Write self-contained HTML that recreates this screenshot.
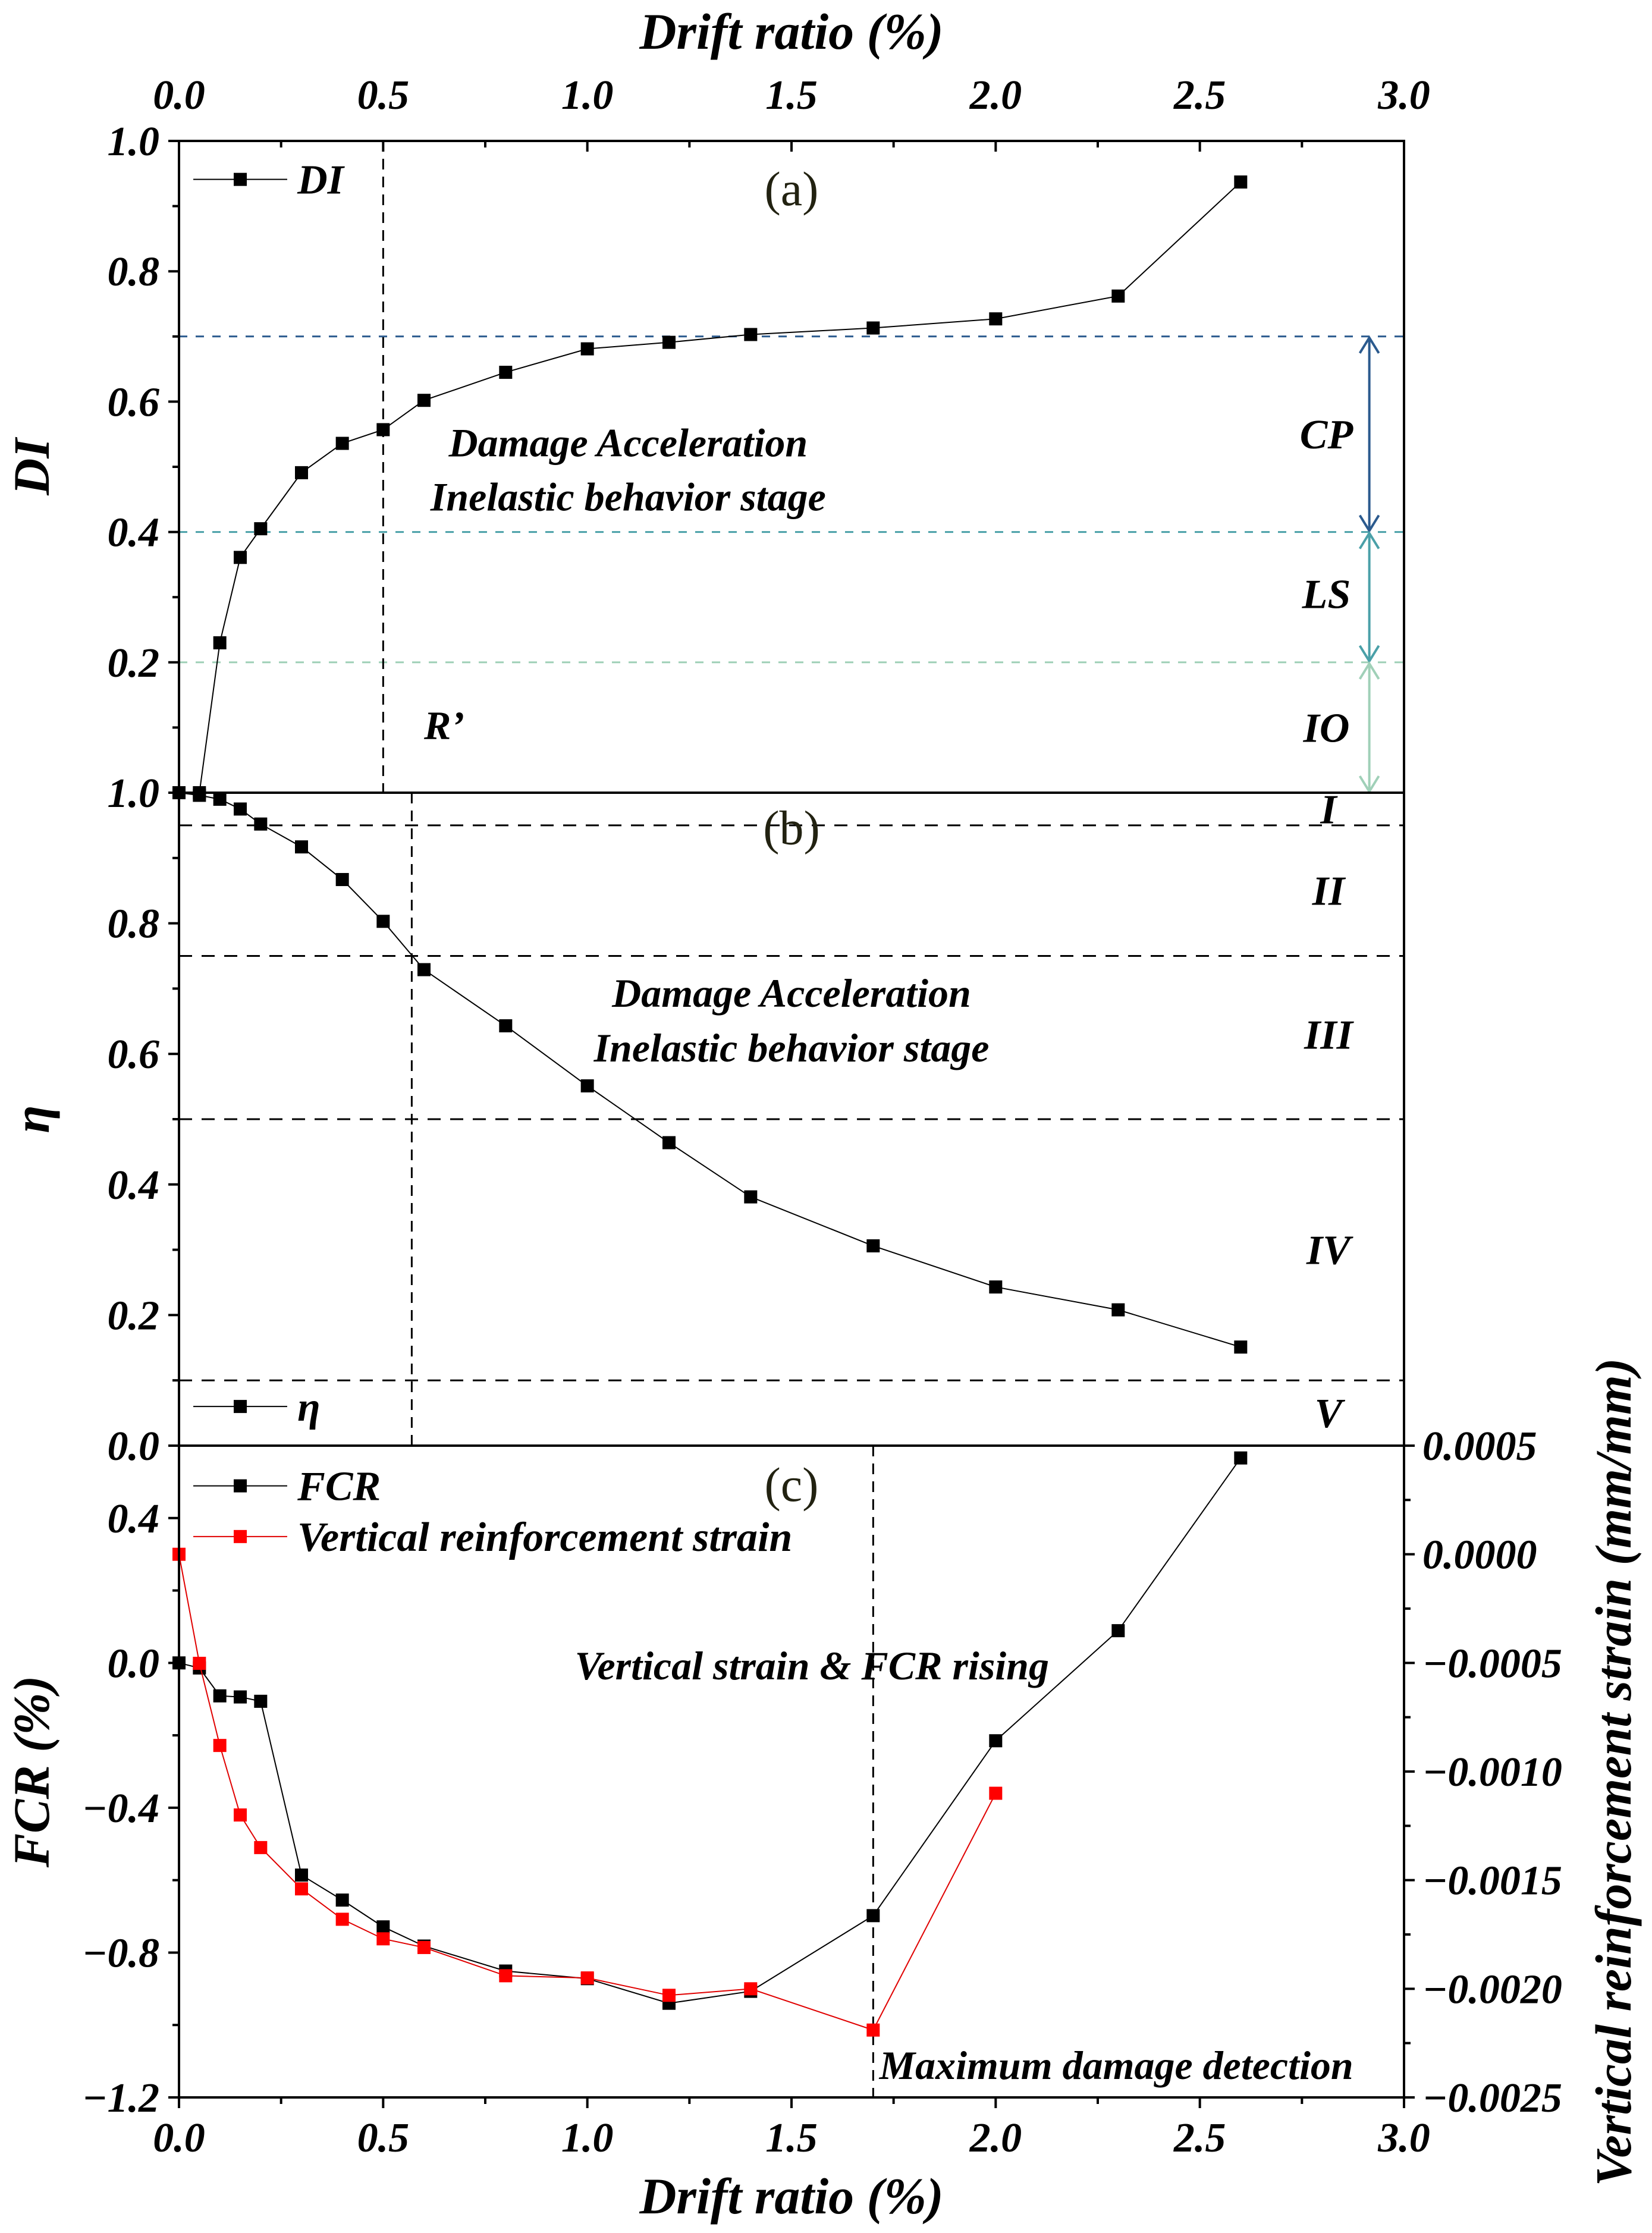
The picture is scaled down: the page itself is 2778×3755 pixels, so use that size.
<!DOCTYPE html>
<html><head><meta charset="utf-8">
<style>
html,body{margin:0;padding:0;background:#fff;}
svg{display:block;font-family:"Liberation Serif",serif;}
.t{font-weight:bold;font-style:italic;fill:#000;}
</style></head>
<body>
<svg id="chart" xmlns="http://www.w3.org/2000/svg" width="2778" height="3755" viewBox="0 0 2778 3755">
<rect x="0" y="0" width="2778" height="3755" fill="#fff"/>
</svg>
<script>
const drift = [0, 0.05, 0.1, 0.15, 0.2, 0.3, 0.4, 0.5, 0.6, 0.8, 1.0, 1.2, 1.4, 1.7, 2.0, 2.3, 2.6];
const diValues = [0, 0, 0.230, 0.361, 0.405, 0.491, 0.536, 0.557, 0.602, 0.645, 0.681, 0.691, 0.703, 0.713, 0.727, 0.762, 0.937];
const etaValues = [1.0, 0.996, 0.99, 0.975, 0.952, 0.917, 0.867, 0.803, 0.729, 0.643, 0.551, 0.464, 0.381, 0.306, 0.243, 0.208, 0.151];
const fcrValues = [0, -0.014, -0.091, -0.094, -0.106, -0.586, -0.655, -0.729, -0.782, -0.851, -0.872, -0.94, -0.907, -0.698, -0.215, 0.089, 0.566];
const strainDrift = [0, 0.05, 0.1, 0.15, 0.2, 0.3, 0.4, 0.5, 0.6, 0.8, 1.0, 1.2, 1.4, 1.7, 2.0];
const strainValues = [0, -0.000502, -0.00088, -0.0012, -0.00135, -0.00154, -0.00168, -0.00177, -0.00181, -0.00194, -0.00195, -0.00203, -0.0020, -0.00219, -0.0011];
const xTicks = ["0.0","0.5","1.0","1.5","2.0","2.5","3.0"];
const diTicks = ["0.2","0.4","0.6","0.8","1.0"];
const etaTicks = ["0.0","0.2","0.4","0.6","0.8","1.0"];
const fcrTicks = ["\u22121.2","\u22120.8","\u22120.4","0.0","0.4"];
const strainTicks = ["\u22120.0025","\u22120.0020","\u22120.0015","\u22120.0010","\u22120.0005","0.0000","0.0005"];
const diLimits = [0.7, 0.4, 0.2];
const etaLimits = [0.95, 0.75, 0.5, 0.1];

const NS = "http://www.w3.org/2000/svg";
const svg = document.getElementById("chart");
const L = 301, R = 2361;
const A = {top:237, bot:1333, min:0, max:1};
const B = {top:1333, bot:2431, min:0, max:1};
const C = {top:2431, bot:3527, min:-1.2, max:0.6};
const CS = {min:-0.0025, max:0.0005};
const X = v => L + (v / 3) * (R - L);
const Y = (p, v) => p.bot - (v - p.min) / (p.max - p.min) * (p.bot - p.top);
const YS = v => C.bot - (v - CS.min) / (CS.max - CS.min) * (C.bot - C.top);

function mk(tag, attrs, parent) {
  const e = document.createElementNS(NS, tag);
  for (const k in attrs) e.setAttribute(k, attrs[k]);
  (parent || svg).appendChild(e);
  return e;
}
function line(x1, y1, x2, y2, stroke, w, dash) {
  const e = mk("line", {x1, y1, x2, y2, stroke, "stroke-width": w});
  if (dash) e.setAttribute("stroke-dasharray", dash);
  return e;
}
function text(x, y, s, size, anchor, cls) {
  const e = mk("text", {x, y, "font-size": size, "text-anchor": anchor || "middle"});
  e.setAttribute("class", cls === undefined ? "t" : cls);
  e.textContent = s;
  return e;
}

// horizontal limit lines panel a
const limColors = ["#2b5a8e", "#4aa0a8", "#a0d0b8"];
diLimits.forEach((v, i) => {
  const l = line(L, Y(A, v), R, Y(A, v), limColors[i], 3, "14,14");
  
  
});
// arrows
const arrowX = X(2.915);
const arrowSpans = [[0.7, 0.4], [0.4, 0.2], [0.2, 0]];
arrowSpans.forEach((s, i) => {
  const g = mk("g", {stroke: limColors[i], "stroke-width": 4, fill: "none"});
  
  
  const y1 = Y(A, s[0]) + 2, y2 = Y(A, s[1]) - 2;
  mk("line", {x1: arrowX, y1, x2: arrowX, y2}, g);
  mk("polyline", {points: `${arrowX-16},${y1+26} ${arrowX},${y1} ${arrowX+16},${y1+26}`}, g);
  mk("polyline", {points: `${arrowX-16},${y2-26} ${arrowX},${y2} ${arrowX+16},${y2-26}`}, g);
});
// panel b limit lines
etaLimits.forEach(v => {
  const l = line(L, Y(B, v), R, Y(B, v), "#000", 3, "22,16");
  
  
});
// vertical dashed lines
let vd = line(X(0.5), A.top, X(0.5), A.bot, "#000", 3, "18,12");


vd = line(X(0.57), B.top, X(0.57), B.bot, "#000", 3, "18,12");


vd = line(X(1.7), C.top, X(1.7), C.bot, "#000", 3, "18,12");



// series
function series(xs, ys, yf, color, name) {
  const g = mk("g", {});
  
  
  const pts = xs.map((x, i) => X(x) + "," + yf(ys[i])).join(" ");
  mk("polyline", {points: pts, fill: "none", stroke: color === "#000" ? "#000" : "#e00000", "stroke-width": 2}, g);
  xs.forEach((x, i) => {
    const m = mk("rect", {x: X(x) - 11, y: yf(ys[i]) - 11, width: 22, height: 22, fill: color}, g);
    
    
  });
}
series(drift, diValues, v => Y(A, v), "#000", "di-series");
series(drift, etaValues, v => Y(B, v), "#000", "eta-series");
series(drift, fcrValues, v => Y(C, v), "#000", "fcr-series");
series(strainDrift, strainValues, YS, "#ff0000", "strain-series");

// frames
[A, B, C].forEach((p, i) => {
  const r = mk("rect", {x: L, y: p.top, width: R - L, height: p.bot - p.top, fill: "none", stroke: "#000", "stroke-width": 4});
  
  
});

// x ticks top and bottom
for (let k = 0; k <= 12; k++) {
  const v = k * 0.25, major = k % 2 === 0;
  const tl = major ? 18 : 11;
  line(X(v), A.top, X(v), A.top + tl, "#000", 4);
  line(X(v), C.bot, X(v), C.bot + tl, "#000", 4);
}
xTicks.forEach(s => {
  const v = parseFloat(s);
  let t = text(X(v), 183, s, 70);
  
  
  t = text(X(v), 3618, s, 70);
  
  
});
// left ticks
function leftTicks(p, step, minor) {
  for (let v = p.min; v <= p.max + 1e-9; v += minor) {
    const isMaj = Math.abs(Math.round(v / step) * step - v) < 1e-6;
    line(L - (isMaj ? 18 : 11), Y(p, v), L, Y(p, v), "#000", 4);
  }
}
leftTicks(A, 0.2, 0.1);
leftTicks(B, 0.2, 0.1);
leftTicks(C, 0.4, 0.2);
diTicks.forEach(s => {
  const t = text(268, Y(A, parseFloat(s)) + 24, s, 70, "end");
  
  
});
etaTicks.forEach(s => {
  const t = text(268, Y(B, parseFloat(s)) + 24, s, 70, "end");
  
  
});
fcrTicks.forEach(s => {
  const t = text(268, Y(C, parseFloat(s.replace("\u2212", "-"))) + 24, s, 70, "end");
  
  
});
// right ticks c
for (let k = 0; k <= 12; k++) {
  const v = CS.min + k * 0.00025, major = k % 2 === 0;
  line(R, YS(v), R + (major ? 18 : 11), YS(v), "#000", 4);
}
strainTicks.forEach(s => {
  const t = text(2392, YS(parseFloat(s.replace("\u2212", "-"))) + 24, s, 70, "start");
  
  
});

// axis titles
let t = text(1331, 82, "Drift ratio (%)", 86);


t = text(1331, 3722, "Drift ratio (%)", 86);


function vtitle(x, y, s, rot, name) {
  const e = text(0, 0, s, 86);
  e.setAttribute("transform", `translate(${x},${y}) rotate(${rot})`);
  
  
}
vtitle(82, (A.top + A.bot) / 2, "DI", -90, 'di-axis-title');
vtitle(82, (B.top + B.bot) / 2, "\u03b7", -90, 'eta-axis-title');
vtitle(82, (C.top + C.bot) / 2, "FCR (%)", -90, 'fcr-axis-title');
vtitle(2742, 2980, "Vertical reinforcement strain (mm/mm)", -90, 'strain-axis-title');

// panel letters
[["(a)", Y(A, 0.925)], ["(b)", Y(B, 0.945)], ["(c)", Y(C, 0.49)]].forEach(p => {
  const e = text(X(1.5), p[1] + 26, p[0], 82, "middle", "");
  e.setAttribute("fill", "#221");
  
  
});

// annotations
function ann(x, y, s, size, anchor, name) {
  const e = text(x, y, s, size, anchor);
  e.setAttribute("fill", "#1a1414");
  
  
}
ann(X(1.1), Y(A, 0.538) + 24, "Damage Acceleration", 68, "middle", 'stage-annotation-a1');
ann(X(1.1), Y(A, 0.455) + 24, "Inelastic behavior stage", 68, "middle", 'stage-annotation-a2');
ann(X(0.6), Y(A, 0.104) + 24, "R\u2019", 68, "start", 'r-prime-label');
ann(X(1.5), Y(B, 0.694) + 24, "Damage Acceleration", 68, "middle", 'stage-annotation-b1');
ann(X(1.5), Y(B, 0.61) + 24, "Inelastic behavior stage", 68, "middle", 'stage-annotation-b2');
ann(X(1.55), Y(C, -0.006) + 24, "Vertical strain & FCR rising", 68, "middle", 'rising-annotation');
ann(X(1.715), Y(C, -1.11) + 24, "Maximum damage detection", 68, "start", 'max-damage-annotation');
[["CP", 0.55], ["LS", 0.305], ["IO", 0.1]].forEach(p => ann(X(2.81), Y(A, p[1]) + 24, p[0], 70, "middle", 'performance-level-label'));
[["I", 0.975], ["II", 0.85], ["III", 0.63], ["IV", 0.3], ["V", 0.05]].forEach(p => ann(X(2.815), Y(B, p[1]) + 24, p[0], 70, "middle", 'damage-state-label'));

// legends
function legend(y, label, color, name) {
  const g = mk("g", {});
  
  
  mk("line", {x1: X(0.035), y1: y, x2: X(0.265), y2: y, stroke: color === "#000" ? "#000" : "#e00000", "stroke-width": 2}, g);
  mk("rect", {x: X(0.15) - 11, y: y - 11, width: 22, height: 22, fill: color}, g);
  const e = mk("text", {x: X(0.29), y: y + 24, "font-size": 70, class: "t"}, g);
  e.textContent = label;
}
legend(Y(A, 0.941), "DI", "#000", 'legend-di');
legend(Y(B, 0.06), "\u03b7", "#000", 'legend-eta');
legend(Y(C, 0.489), "FCR", "#000", 'legend-fcr');
legend(Y(C, 0.349), "Vertical reinforcement strain", "#ff0000", 'legend-strain');
</script>
</body></html>
